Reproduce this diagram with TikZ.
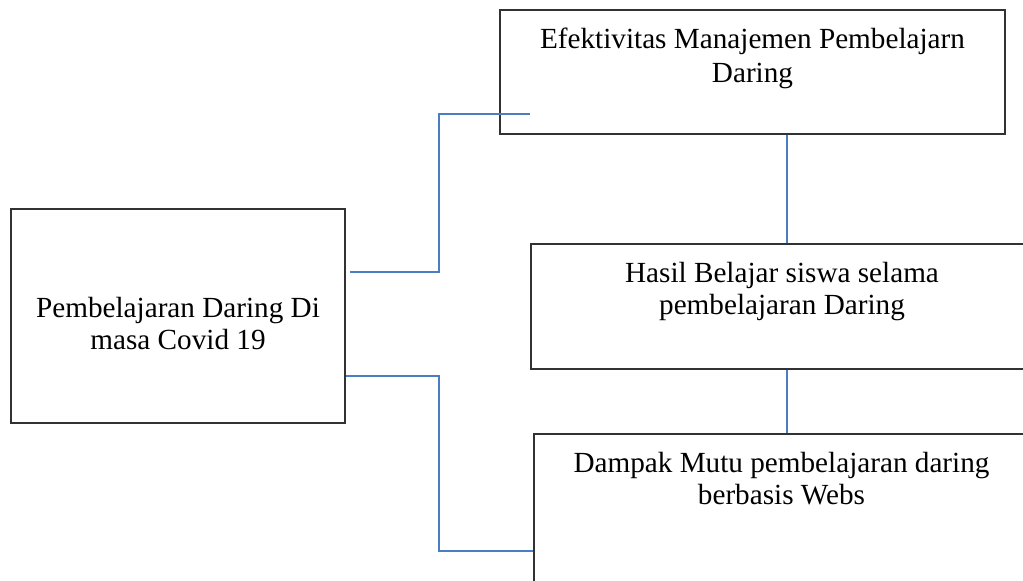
\documentclass[tikz,border=0pt]{standalone}
\usepackage{fontspec}
\setmainfont{Liberation Serif}
\definecolor{linkblue}{RGB}{74,126,193}
\definecolor{boxline}{RGB}{50,50,50}
\begin{document}
\begin{tikzpicture}[x=1pt,y=-1pt,
  box/.style={draw=boxline,line width=1.3pt,rectangle,inner sep=0pt},
  conn/.style={draw=linkblue,line width=1.6pt},
  lbl/.style={anchor=base,inner sep=0pt,font=\fontsize{29.2}{33}\selectfont}]
\clip (0,0) rectangle (1023,581);
\fill[white] (0,0) rectangle (1023,581);
% boxes
\node[box,minimum width=334pt,minimum height=214pt] (left) at (178,316) {};
\node[box,minimum width=505pt,minimum height=124pt] (top) at (752.5,72) {};
\node[box,minimum width=502pt,minimum height=125pt] (mid) at (782,306.5) {};
\node[box,minimum width=495pt,minimum height=186pt] (bot) at (781.5,527) {};
% texts
\node[lbl] (l1) at (178,317) {Pembelajaran Daring Di};
\node[lbl] (l2) at (178,349) {masa Covid 19};
\node[lbl] (t1) at (752.5,48) {Efektivitas Manajemen Pembelajarn};
\node[lbl] (t2) at (752.5,82) {Daring};
\node[lbl] (m1) at (782,282) {Hasil Belajar siswa selama};
\node[lbl] (m2) at (782,314) {pembelajaran Daring};
\node[lbl] (b1) at (781.5,472) {Dampak Mutu pembelajaran daring};
\node[lbl] (b2) at (781.5,504) {berbasis Webs};
% helper coordinates
\coordinate (ya) at (0,272);
\coordinate (yb) at (0,376);
\coordinate (yc) at (0,114);
\coordinate (yd) at (0,551);
\coordinate (xv) at (787,0);
\coordinate (end1) at (530,114);
% connectors
\draw[conn] ([xshift=4pt]left.east |- ya) -- (439,272) |- (end1);
\draw[conn] (left.east |- yb) -- (439,376) |- (bot.west |- yd);
\draw[conn] (top.south -| xv) -- (mid.north -| xv);
\draw[conn] (mid.south -| xv) -- (bot.north -| xv);
% redraw box borders over connector ends
\draw[boxline,line width=1.3pt] (left.north east) -- (left.south east);
\draw[boxline,line width=1.3pt] (bot.north west) -- (bot.south west);
\end{tikzpicture}
\end{document}
